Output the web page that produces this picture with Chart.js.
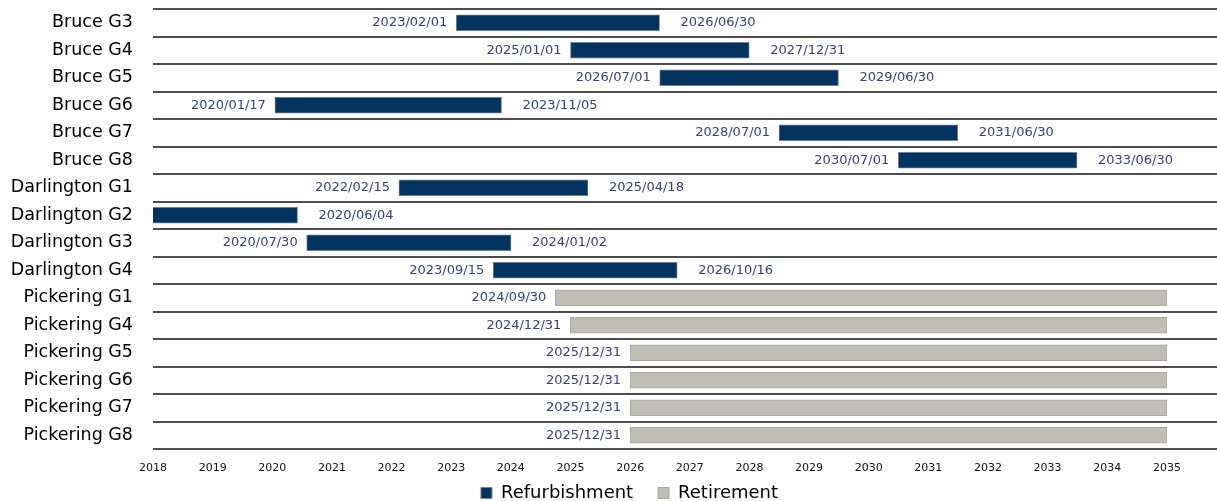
<!DOCTYPE html>
<html>
<head>
<meta charset="utf-8">
<script src="https://cdn.jsdelivr.net/npm/chart.js@4/dist/chart.umd.min.js"></script>
<style>
  html, body { margin: 0; padding: 0; background: #fff; }
  #wrap { width: 1217px; height: 501px; }
</style>
</head>
<body>
<div id="wrap"><canvas id="ganttChart"></canvas></div>
<script>
// units on the y axis
const units = ['Bruce G3', 'Bruce G4', 'Bruce G5', 'Bruce G6', 'Bruce G7', 'Bruce G8',
  'Darlington G1', 'Darlington G2', 'Darlington G3', 'Darlington G4',
  'Pickering G1', 'Pickering G4', 'Pickering G5', 'Pickering G6', 'Pickering G7', 'Pickering G8'];

// refurbishment outages (null = none)
const refurbStart = ['2023/02/01', '2025/01/01', '2026/07/01', '2020/01/17', '2028/07/01', '2030/07/01',
  '2022/02/15', '2016/10/15', '2020/07/30', '2023/09/15',
  null, null, null, null, null, null];
const refurbEnd = ['2026/06/30', '2027/12/31', '2029/06/30', '2023/11/05', '2031/06/30', '2033/06/30',
  '2025/04/18', '2020/06/04', '2024/01/02', '2026/10/16',
  null, null, null, null, null, null];

// retirements
const retireStart = [null, null, null, null, null, null, null, null, null, null,
  '2024/09/30', '2024/12/31', '2025/12/31', '2025/12/31', '2025/12/31', '2025/12/31'];
const retireEnd = [null, null, null, null, null, null, null, null, null, null,
  '2035/01/01', '2035/01/01', '2035/01/01', '2035/01/01', '2035/01/01', '2035/01/01'];

const yearTicks = [2018, 2019, 2020, 2021, 2022, 2023, 2024, 2025, 2026, 2027,
  2028, 2029, 2030, 2031, 2032, 2033, 2034, 2035];

// "2023/02/01" -> 2023.08...
function toYear(str) {
  const [y, m, d] = str.split('/').map(Number);
  const t0 = Date.UTC(y, 0, 1);
  return y + (Date.UTC(y, m - 1, d) - t0) / (Date.UTC(y + 1, 0, 1) - t0);
}

function spans(starts, ends) {
  return starts.map((s, i) => (s && ends[i]) ? [toYear(s), toYear(ends[i])] : null);
}

const labelColor = '#333E8E';

// draws the start / end dates next to each bar
const dateLabels = {
  id: 'dateLabels',
  afterDatasetsDraw(chart) {
    const ctx = chart.ctx;
    const xs = chart.scales.x;
    const area = chart.chartArea;
    ctx.save();
    ctx.font = '13px "DejaVu Sans", sans-serif';
    ctx.fillStyle = labelColor;
    ctx.textBaseline = 'middle';
    chart.data.datasets.forEach((ds, di) => {
      const meta = chart.getDatasetMeta(di);
      meta.data.forEach((bar, i) => {
        const v = ds.data[i];
        if (!v) return;
        const startTxt = ds.startText[i];
        const endTxt = ds.endText ? ds.endText[i] : null;
        const x0 = xs.getPixelForValue(v[0]);
        const x1 = xs.getPixelForValue(v[1]);
        if (startTxt && x0 >= area.left) {
          ctx.textAlign = 'right';
          ctx.fillText(startTxt, x0 - 9, bar.y);
        }
        if (endTxt) {
          ctx.textAlign = 'left';
          ctx.fillText(endTxt, x1 + 21, bar.y);
        }
      });
    });
    ctx.restore();
  }
};

// legend sits a bit right of centre and partly below the frame, like the original
const legendShift = {
  id: 'legendShift',
  afterLayout(chart) {
    const lg = chart.legend;
    lg.left += 42;
    lg.top += 11;
    lg.bottom += 11;
  }
};

new Chart(document.getElementById('ganttChart'), {
  type: 'bar',
  data: {
    labels: units,
    datasets: [{
      label: 'Refurbishment',
      data: spans(refurbStart, refurbEnd),
      startText: refurbStart,
      endText: refurbEnd,
      backgroundColor: '#03335F',
      borderColor: '#6E7F99',
      borderWidth: 1,
      borderSkipped: false,
      barThickness: 16,
      grouped: false
    }, {
      label: 'Retirement',
      data: spans(retireStart, retireEnd),
      startText: retireStart,
      endText: null,
      backgroundColor: '#BEBEB5',
      borderColor: '#A9A9A1',
      borderWidth: 1,
      borderSkipped: false,
      barThickness: 16,
      grouped: false
    }]
  },
  options: {
    indexAxis: 'y',
    responsive: true,
    maintainAspectRatio: false,
    animation: false,
    layout: { padding: { top: 9, right: 0, left: 0, bottom: 0 } },
    scales: {
      x: {
        type: 'linear',
        min: 2018,
        max: 2035.84,
        afterBuildTicks(axis) {
          axis.ticks = yearTicks.map(v => ({ value: v }));
        },
        afterFit(axis) {
          axis.height = 22;
          axis.paddingLeft = 0;
          axis.paddingRight = 0;
        },
        grid: { display: false },
        border: { display: false },
        ticks: {
          autoSkip: false,
          maxRotation: 0,
          padding: 5,
          color: '#111',
          font: { family: '"DejaVu Sans", sans-serif', size: 11 },
          callback: v => String(v)
        }
      },
      y: {
        type: 'category',
        offset: true,
        afterFit(axis) {
          axis.width = 153;
          axis.paddingTop = 0;
          axis.paddingBottom = 0;
        },
        grid: {
          offset: true,
          drawTicks: false,
          color: '#4D4D4D',
          lineWidth: 2
        },
        border: { display: false },
        ticks: {
          padding: 20,
          color: '#000',
          font: { family: '"DejaVu Sans", sans-serif', size: 17.5 }
        }
      }
    },
    plugins: {
      legend: {
        position: 'bottom',
        labels: {
          boxWidth: 11,
          boxHeight: 11,
          padding: 2,
          color: '#000',
          font: { family: '"DejaVu Sans", sans-serif', size: 18 },
          generateLabels(chart) {
            const items = Chart.defaults.plugins.legend.labels.generateLabels(chart);
            items[0].text += '    ';
            return items;
          }
        }
      },
      tooltip: { enabled: false }
    }
  },
  plugins: [dateLabels, legendShift]
});
</script>
</body>
</html>
